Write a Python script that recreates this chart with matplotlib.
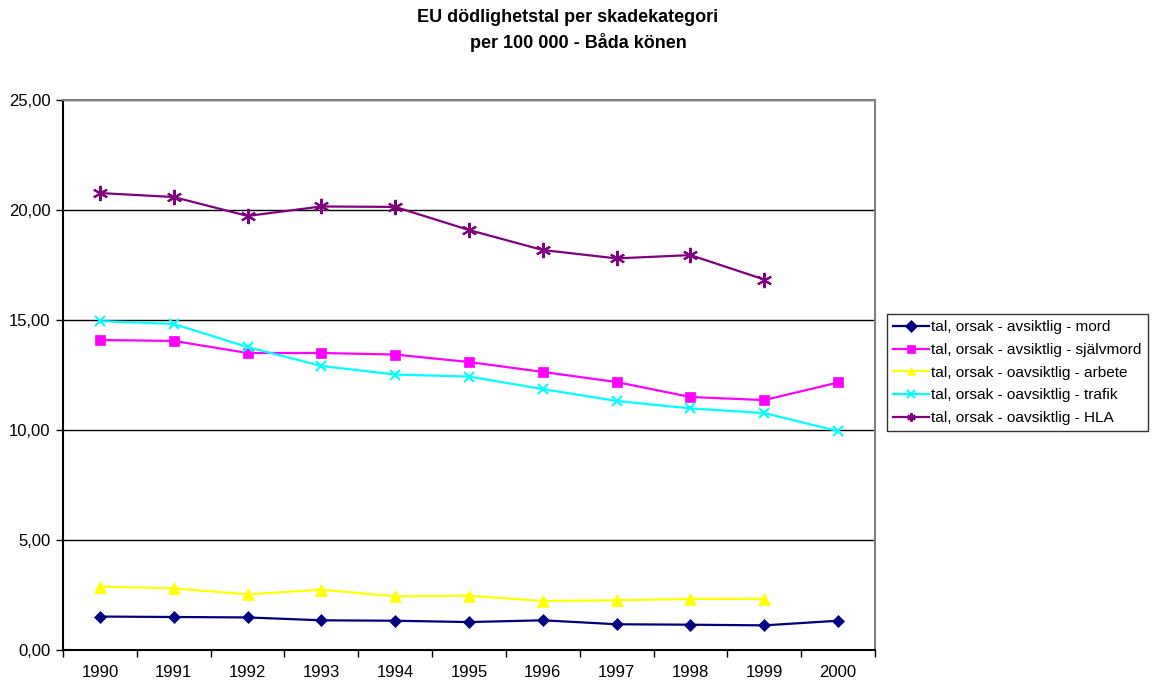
import numpy as np
import matplotlib.pyplot as plt
from matplotlib.ticker import FuncFormatter

plt.rcParams['font.family'] = ['Liberation Sans', 'DejaVu Sans']

years = ['1990', '1991', '1992', '1993', '1994', '1995', '1996', '1997', '1998', '1999', '2000']

mord = [1.52, 1.50, 1.48, 1.35, 1.33, 1.27, 1.35, 1.17, 1.15, 1.12, 1.33]
sjalvmord = [14.09, 14.05, 13.50, 13.50, 13.43, 13.09, 12.64, 12.18, 11.50, 11.36, 12.16]
arbete = [2.88, 2.80, 2.53, 2.74, 2.44, 2.47, 2.23, 2.26, 2.32, 2.33, None]
trafik = [14.95, 14.82, 13.77, 12.91, 12.52, 12.43, 11.86, 11.32, 10.98, 10.77, 9.95]
hla = [20.77, 20.59, 19.73, 20.16, 20.14, 19.09, 18.18, 17.80, 17.95, 16.84, None]

labels = ['tal, orsak - avsiktlig - mord',
          'tal, orsak - avsiktlig - självmord',
          'tal, orsak - oavsiktlig - arbete',
          'tal, orsak - oavsiktlig - trafik',
          'tal, orsak - oavsiktlig - HLA']


def as_array(vals):
    # None -> NaN so the line just stops where there's no value
    return np.array([np.nan if v is None else v for v in vals], dtype=float)


fig = plt.figure(figsize=(11.55, 6.82), dpi=100)
ax = fig.add_axes([63 / 1155, 32 / 682, 812 / 1155, 550 / 682])

x = np.arange(len(years))
styles = [
    (mord, '#000080', 'D', 6),
    (sjalvmord, '#FF00FF', 's', 7.5),
    (arbete, '#FFFF00', '^', 8),
    (trafik, '#00FFFF', 'x', 7.5),
    (hla, '#800080', (6, 2, 0), 11),
]
for (vals, color, marker, ms), lab in zip(styles, labels):
    ax.plot(x, as_array(vals), color=color, marker=marker, markersize=ms,
            markeredgewidth=1.5 if marker in ('x', (6, 2, 0)) else 0.5,
            markeredgecolor=color, linewidth=1.6, label=lab)

ax.set_ylim(0, 25)
ax.set_yticks(np.arange(0, 26, 5))
ax.yaxis.set_major_formatter(FuncFormatter(lambda v, p: f'{v:.2f}'.replace('.', ',')))
ax.yaxis.grid(True, color='black', linewidth=1)
ax.set_axisbelow(True)

# year labels sit between the tick marks
ax.set_xlim(-0.5, len(years) - 0.5)
ax.set_xticks(np.arange(-0.5, len(years), 1.0))
ax.set_xticklabels([])
ax.set_xticks(x, minor=True)
ax.set_xticklabels(years, minor=True)
ax.tick_params(axis='x', which='minor', length=0, pad=11)
ax.tick_params(axis='both', which='major', direction='out', length=5, width=1)
ax.tick_params(axis='y', pad=4)
ax.tick_params(which='both', labelsize=12)

ax.spines['left'].set_color('black')
ax.spines['bottom'].set_color('black')
ax.spines['top'].set_color('#808080')
ax.spines['right'].set_color('#808080')
for s in ax.spines.values():
    s.set_linewidth(1.5)

fig.text(568 / 1155, 1 - 17 / 682, 'EU dödlighetstal per skadekategori',
         ha='center', va='center', fontsize=13, fontweight='bold')
fig.text(578 / 1155, 1 - 43 / 682, 'per 100 000 - Båda könen',
         ha='center', va='center', fontsize=13, fontweight='bold')

leg = fig.legend(loc='upper left', bbox_to_anchor=(887 / 1155, 1 - 314 / 682),
                 fontsize=11.1, frameon=True, fancybox=False, handlelength=2.3,
                 handletextpad=0.15, borderpad=0.42, labelspacing=0.56,
                 borderaxespad=0)
leg.get_frame().set_edgecolor('black')
leg.get_frame().set_linewidth(1)
for h in leg.legend_handles:
    h.set_markersize(6)

fig.savefig('out.png', dpi=100)
